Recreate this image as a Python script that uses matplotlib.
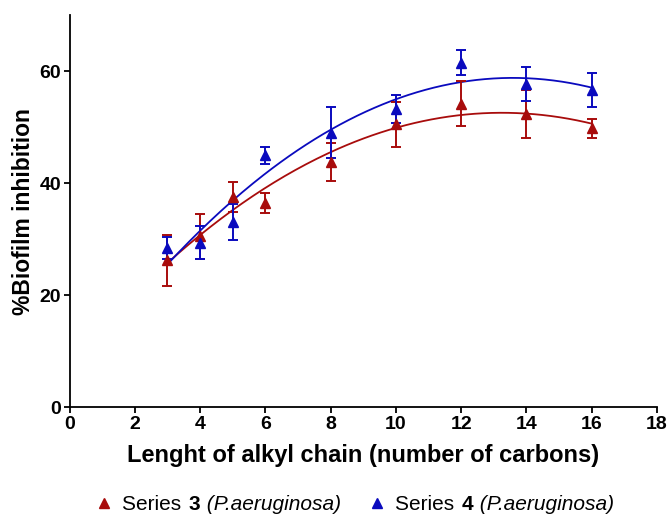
import numpy as np
import matplotlib
matplotlib.use("Agg")
import matplotlib.pyplot as plt
from matplotlib.lines import Line2D
from matplotlib.offsetbox import (AnchoredOffsetbox, DrawingArea, HPacker,
                                  TextArea)

carbons = [3, 4, 5, 6, 8, 10, 12, 14, 16]
s3_mean = [26.2, 30.5, 37.5, 36.5, 43.8, 50.5, 54.2, 52.4, 49.8]
s3_err = [4.6, 4.0, 2.7, 1.8, 3.4, 4.0, 4.0, 4.3, 1.7]
s4_mean = [28.4, 29.4, 33.0, 45.0, 49.0, 53.3, 61.5, 57.7, 56.6]
s4_err = [2.0, 3.0, 3.2, 1.5, 4.5, 2.5, 2.2, 3.1, 3.1]

series_nums = ["3", "4"]
species = "(P.aeruginosa)"
xticks = [0, 2, 4, 6, 8, 10, 12, 14, 16, 18]
yticks = [0, 20, 40, 60]

plt.rcParams['font.family'] = ['Liberation Sans', 'DejaVu Sans']

red = '#A80C0C'
blue = '#0A0ABE'

fig = plt.figure(figsize=(6.70, 5.22), dpi=100)
ax = fig.add_axes([0.1039, 0.2197, 0.8764, 0.7516])

x = np.array(carbons, dtype=float)
xf = np.linspace(3, 16, 200)
for mean, err, col in [(s3_mean, s3_err, red), (s4_mean, s4_err, blue)]:
    c = np.polyfit(x, mean, 2)
    ax.plot(xf, np.polyval(c, xf), color=col, lw=1.3, zorder=2)
    ax.errorbar(x, mean, yerr=err, fmt='^', color=col, ms=7.5,
                ecolor=col, elinewidth=1.4, capsize=3.5, capthick=1.4, zorder=3)

ax.set_xlim(0, 18)
ax.set_ylim(0, 70)
ax.set_xticks(xticks)
ax.set_yticks(yticks)
for s in ['top', 'right']:
    ax.spines[s].set_visible(False)
for s in ['left', 'bottom']:
    ax.spines[s].set_linewidth(1.3)
ax.tick_params(direction='out', length=4, width=1.3, labelsize=14, pad=2)
for lab in ax.get_xticklabels() + ax.get_yticklabels():
    lab.set_fontweight('bold')

ax.set_xlabel("Lenght of alkyl chain (number of carbons)", fontsize=17,
              fontweight='bold', labelpad=8)
ax.set_ylabel("%Biofilm inhibition", fontsize=16.5, fontweight='bold', labelpad=3)

# legend built from text pieces (mixed bold / italic)
items = []
for num, col in zip(series_nums, [red, blue]):
    da = DrawingArea(20, 10, 0, 0)
    da.add_artist(Line2D([8], [5], marker='^', color=col, ls='none', ms=7))
    items.append(da)
    items.append(TextArea("Series ", textprops=dict(fontsize=15)))
    items.append(TextArea(num, textprops=dict(fontsize=15, fontweight='bold')))
    items.append(TextArea(" " + species + "    ",
                          textprops=dict(fontsize=15, fontstyle='italic')))
box = HPacker(children=items, align='baseline', pad=0, sep=1)
anch = AnchoredOffsetbox(loc='center', child=box, pad=0, frameon=False,
                         bbox_to_anchor=(0.545, 0.033),
                         bbox_transform=fig.transFigure, borderpad=0)
fig.add_artist(anch)

fig.savefig("out.png", dpi=100)
